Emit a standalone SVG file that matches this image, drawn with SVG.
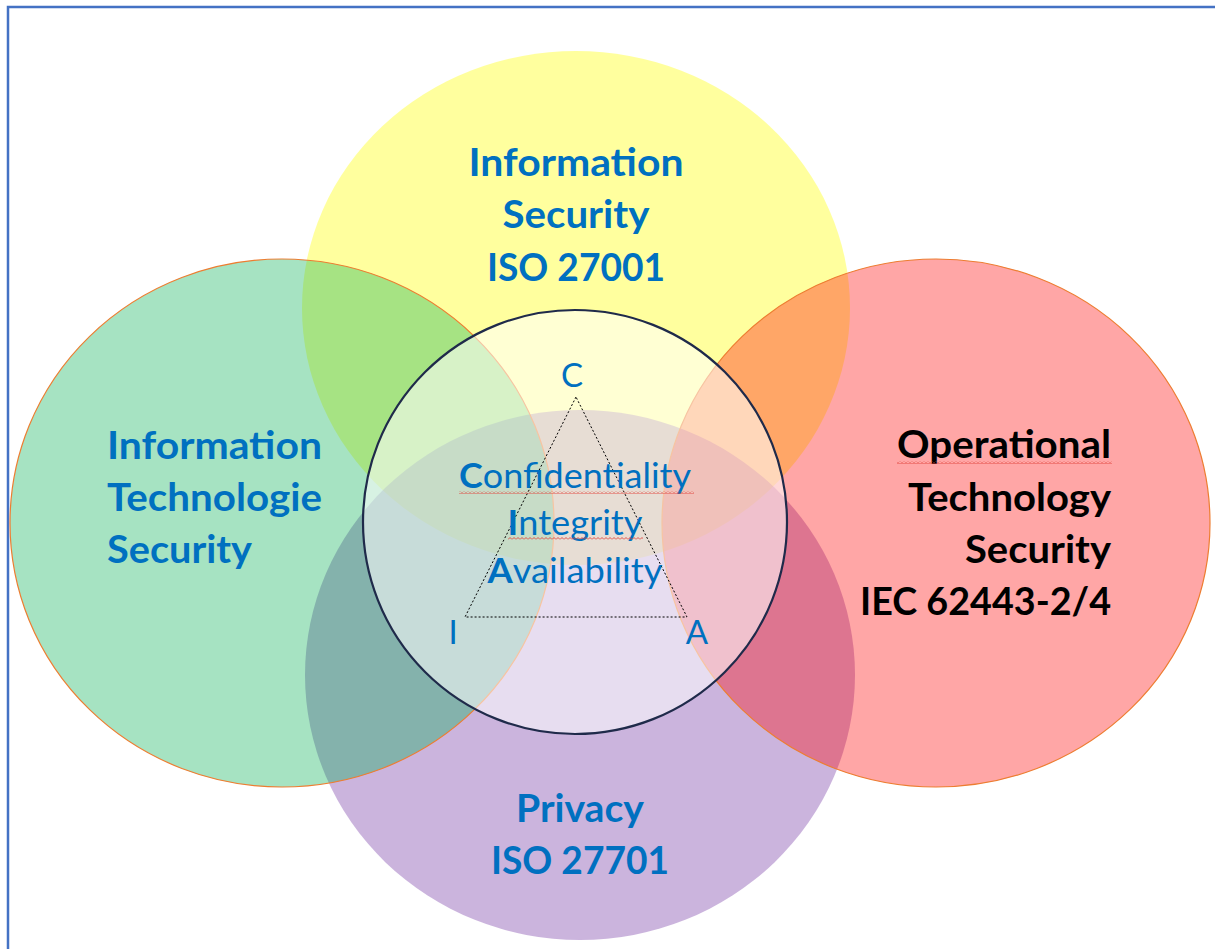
<svg xmlns="http://www.w3.org/2000/svg" width="1215" height="949" viewBox="0 0 1215 949">
  <style>
    .title { font-family: Lato, "Liberation Sans", sans-serif; font-weight: bold; font-size: 39px; fill: #0070C0; }
    .black { fill: #000000; }
    .cia { font-family: Lato, "Liberation Sans", sans-serif; font-size: 35px; fill: #0070C0; }
    .letter { font-family: Lato, "Liberation Sans", sans-serif; font-size: 33px; fill: #0070C0; text-anchor: middle; }
    .b { font-weight: bold; }
    .ring { stroke: #ED7D31; stroke-width: 1.2; }
    .squig { fill: url(#sq); }
  </style>
  <defs>
    <pattern id="sq" width="4" height="3" patternUnits="userSpaceOnUse">
      <path d="M0,2.5 L2,0.5 L4,2.5" fill="none" stroke="#E0403A" stroke-width="0.9"/>
    </pattern>
  </defs>
  <rect x="0" y="0" width="1215" height="949" fill="#FFFFFF"/>
  <rect x="8" y="7" width="1260" height="1000" fill="none" stroke="#4472C4" stroke-width="2.5"/>

  <g id="information-security">
    <ellipse cx="576" cy="308" rx="274" ry="257" fill="#FFFF00" fill-opacity="0.38"/>
  </g>
  <g id="privacy">
    <ellipse cx="580" cy="675" rx="275" ry="265" fill="#7030A0" fill-opacity="0.36"/>
  </g>
  <g id="it-security">
    <ellipse class="ring" cx="282" cy="523" rx="272" ry="264" fill="#00B050" fill-opacity="0.35"/>
  </g>
  <g id="ot-security">
    <ellipse class="ring" cx="936" cy="523" rx="274" ry="264" fill="#FF0000" fill-opacity="0.35"/>
  </g>
  <g id="cia-core">
    <circle cx="575" cy="522" r="212" fill="#FFFFFF" fill-opacity="0.55" stroke="#1F2A4A" stroke-width="2.2"/>
  </g>

  <g id="connectors">
    <polygon points="576,397 465,617 687,617" fill="none" stroke="#000000" stroke-width="1" stroke-dasharray="2 2"/>
  </g>

  <g id="labels-yellow">
    <text class="title" x="576" y="176" text-anchor="middle" textLength="215" lengthAdjust="spacingAndGlyphs">Information</text>
    <text class="title" x="576" y="228" text-anchor="middle" textLength="147" lengthAdjust="spacingAndGlyphs">Security</text>
    <text class="title" x="576" y="281" text-anchor="middle" textLength="178" lengthAdjust="spacingAndGlyphs">ISO 27001</text>
  </g>
  <g id="labels-green">
    <text class="title" x="107" y="459" textLength="215" lengthAdjust="spacingAndGlyphs">Information</text>
    <text class="title" x="107" y="511" textLength="215" lengthAdjust="spacingAndGlyphs">Technologie</text>
    <text class="title" x="107" y="563" textLength="145" lengthAdjust="spacingAndGlyphs">Security</text>
  </g>
  <g id="labels-red">
    <text class="title black" x="1111" y="458" text-anchor="end" textLength="214" lengthAdjust="spacingAndGlyphs">Operational</text>
    <rect class="squig" x="897" y="461" width="215" height="3"/>
    <text class="title black" x="1111" y="511" text-anchor="end" textLength="203" lengthAdjust="spacingAndGlyphs">Technology</text>
    <text class="title black" x="1111" y="563" text-anchor="end" textLength="146" lengthAdjust="spacingAndGlyphs">Security</text>
    <text class="title black" x="1111" y="615" text-anchor="end" textLength="251" lengthAdjust="spacingAndGlyphs">IEC 62443-2/4</text>
  </g>
  <g id="labels-purple">
    <text class="title" x="580" y="822" text-anchor="middle" textLength="128" lengthAdjust="spacingAndGlyphs">Privacy</text>
    <text class="title" x="580" y="874" text-anchor="middle" textLength="178" lengthAdjust="spacingAndGlyphs">ISO 27701</text>
  </g>

  <g id="cia-labels">
    <text class="letter" x="572" y="387">C</text>
    <text class="letter" x="453" y="644">I</text>
    <text class="letter" x="697" y="644">A</text>
    <text class="cia" x="575" y="488" text-anchor="middle" textLength="232" lengthAdjust="spacingAndGlyphs"><tspan class="b">C</tspan>onfidentiality</text>
    <rect class="squig" x="459" y="491" width="235" height="3"/>
    <text class="cia" x="575" y="535" text-anchor="middle" textLength="135" lengthAdjust="spacingAndGlyphs"><tspan class="b">I</tspan>ntegrity</text>
    <rect class="squig" x="508" y="537" width="135" height="3"/>
    <text class="cia" x="575" y="583" text-anchor="middle" textLength="175" lengthAdjust="spacingAndGlyphs"><tspan class="b">A</tspan>vailability</text>
  </g>
</svg>
